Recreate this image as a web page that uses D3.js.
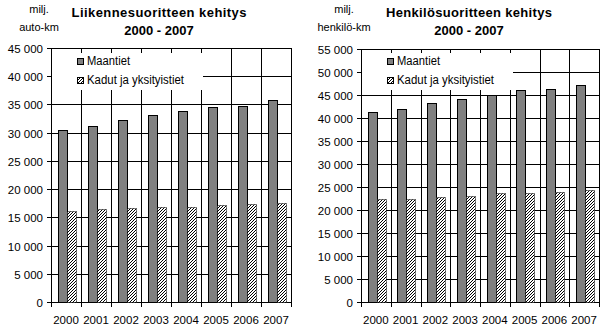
<!DOCTYPE html>
<html>
<head>
<meta charset="utf-8">
<script src="https://cdn.jsdelivr.net/npm/d3@7"></script>
<style>
  body { margin: 0; background: #fff; }
  text { font-family: Arial, "Liberation Sans", sans-serif; fill: #000; }
</style>
</head>
<body>
<div id="chart"></div>
<script>
var WIDTH = 606;
var HEIGHT = 335;

var years = ["2000", "2001", "2002", "2003", "2004", "2005", "2006", "2007"];
var seriesNames = ["Maantiet", "Kadut ja yksityistiet"];

// liikennesuorite, milj. auto-km
var autoMaantiet = [30500, 31200, 32300, 33200, 33900, 34600, 34800, 35700];
var autoKadut = [16100, 16400, 16600, 16800, 16900, 17100, 17300, 17500];
var autoTicks = [0, 5000, 10000, 15000, 20000, 25000, 30000, 35000, 40000, 45000];

// henkilösuorite, milj. henkilö-km
var henkMaantiet = [41200, 42000, 43300, 44200, 45000, 46000, 46200, 47100];
var henkKadut = [22300, 22500, 22800, 23000, 23600, 23800, 23900, 24300];
var henkTicks = [0, 5000, 10000, 15000, 20000, 25000, 30000, 35000, 40000, 45000, 50000, 55000];

var svg = d3.select("#chart")
    .append("svg")
    .attr("width", WIDTH)
    .attr("height", HEIGHT);

// fine upward diagonal hatch, drawn pixel by pixel
var defs = svg.append("defs");
var pat = defs.append("pattern")
    .attr("id", "hatch")
    .attr("patternUnits", "userSpaceOnUse")
    .attr("width", 3)
    .attr("height", 3);
pat.append("rect").attr("width", 3).attr("height", 3).attr("fill", "#fff");
for (var i = 0; i < 3; i++) {
    pat.append("rect").attr("x", 2 - i).attr("y", i).attr("width", 1).attr("height", 1).attr("fill", "#000");
}

var fmt = function (v) { return d3.format(",")(v).replace(/,/g, " "); };

function draw_chart(opt) {
    var g = svg.append("g");
    var x = d3.scaleBand().domain(years).range([opt.x0, opt.x1]).padding(0);
    var y = d3.scaleLinear().domain([0, d3.max(opt.ticks)]).range([opt.y1, opt.y0]);
    var step = x.step();

    // horizontal grid + y ticks
    g.selectAll(".hgrid").data(opt.ticks).enter()
        .append("line")
        .attr("x1", opt.x0 - 4)
        .attr("x2", opt.x1)
        .attr("y1", function (d) { return Math.round(y(d)) + 0.5; })
        .attr("y2", function (d) { return Math.round(y(d)) + 0.5; })
        .attr("stroke", "#000");

    g.selectAll(".ylab").data(opt.ticks).enter()
        .append("text")
        .attr("x", opt.x0 - 8)
        .attr("y", function (d) { return Math.round(y(d)) + 4.5; })
        .attr("text-anchor", "end")
        .style("font-size", "11.5px")
        .text(fmt);

    // vertical grid at category boundaries + x ticks
    var bounds = years.map(function (d) { return x(d); }).concat([opt.x1]);
    g.selectAll(".vgrid").data(bounds).enter()
        .append("line")
        .attr("x1", function (d) { return Math.round(d) + 0.5; })
        .attr("x2", function (d) { return Math.round(d) + 0.5; })
        .attr("y1", opt.y0)
        .attr("y2", opt.y1 + 5)
        .attr("stroke", "#000");

    g.selectAll(".xlab").data(years).enter()
        .append("text")
        .attr("x", function (d) { return x(d) + step / 2; })
        .attr("y", 324)
        .attr("text-anchor", "middle")
        .style("font-size", "11.5px")
        .text(function (d) { return d; });

    // bars
    var bw = step * 0.3;
    g.selectAll(".bar1").data(opt.s1).enter()
        .append("rect")
        .attr("x", function (d, i) { return Math.round(x(years[i]) + step * 0.22) + 0.5; })
        .attr("y", function (d) { return Math.round(y(d)) + 0.5; })
        .attr("width", Math.round(bw))
        .attr("height", function (d) { return Math.round(y(0)) - Math.round(y(d)); })
        .attr("fill", "#808080")
        .attr("stroke", "#000");

    g.selectAll(".bar2").data(opt.s2).enter()
        .append("rect")
        .attr("x", function (d, i) { return Math.round(x(years[i]) + step * 0.22) + Math.round(bw) + 0.5; })
        .attr("y", function (d) { return Math.round(y(d)) + 0.5; })
        .attr("width", Math.round(bw))
        .attr("height", function (d) { return Math.round(y(0)) - Math.round(y(d)); })
        .attr("fill", "url(#hatch)")
        .attr("stroke", "#000")
        .attr("stroke-dasharray", "1,1");

    // legend (white box hides grid)
    g.append("rect")
        .attr("x", opt.x0 + 1)
        .attr("y", 53)
        .attr("width", 151)
        .attr("height", 37)
        .attr("fill", "#fff");

    var lg = g.append("g").attr("transform", "translate(" + (opt.x0 + 26) + ",0)");
    lg.append("rect").attr("x", 0.5).attr("y", 58.5).attr("width", 6).attr("height", 6)
        .attr("fill", "#808080").attr("stroke", "#000");
    lg.append("rect").attr("x", 0.5).attr("y", 77.5).attr("width", 6).attr("height", 6)
        .attr("fill", "url(#hatch)").attr("stroke", "#000");
    lg.append("text").attr("x", 10).attr("y", 65).style("font-size", "12.5px")
        .attr("textLength", 43).attr("lengthAdjust", "spacingAndGlyphs")
        .text(seriesNames[0]);
    lg.append("text").attr("x", 10).attr("y", 84).style("font-size", "12.5px")
        .attr("textLength", 97).attr("lengthAdjust", "spacingAndGlyphs")
        .text(seriesNames[1]);

    // title
    g.append("text")
        .attr("x", opt.x0 + 108)
        .attr("y", 17)
        .attr("text-anchor", "middle")
        .style("font-size", "13px")
        .style("font-weight", "bold")
        .attr("textLength", opt.titleLen)
        .attr("lengthAdjust", "spacing")
        .text(opt.title);
    g.append("text")
        .attr("x", opt.x0 + 108)
        .attr("y", 35)
        .attr("text-anchor", "middle")
        .style("font-size", "13px")
        .style("font-weight", "bold")
        .text("2000 - 2007");

    // unit
    g.append("text")
        .attr("x", opt.unitX)
        .attr("y", 13)
        .attr("text-anchor", "middle")
        .style("font-size", "11px")
        .text("milj.");
    g.append("text")
        .attr("x", opt.unitX)
        .attr("y", 30.5)
        .attr("text-anchor", "middle")
        .style("font-size", "11px")
        .text(opt.unit);
}

draw_chart({
    x0: 51, x1: 291, y0: 48, y1: 302,
    ticks: autoTicks, s1: autoMaantiet, s2: autoKadut,
    title: "Liikennesuoritteen kehitys", titleLen: 175,
    unit: "auto-km", unitX: 39
});

draw_chart({
    x0: 361, x1: 599, y0: 49, y1: 302,
    ticks: henkTicks, s1: henkMaantiet, s2: henkKadut,
    title: "Henkilösuoritteen kehitys", titleLen: 166,
    unit: "henkilö-km", unitX: 344
});
</script>
</body>
</html>
